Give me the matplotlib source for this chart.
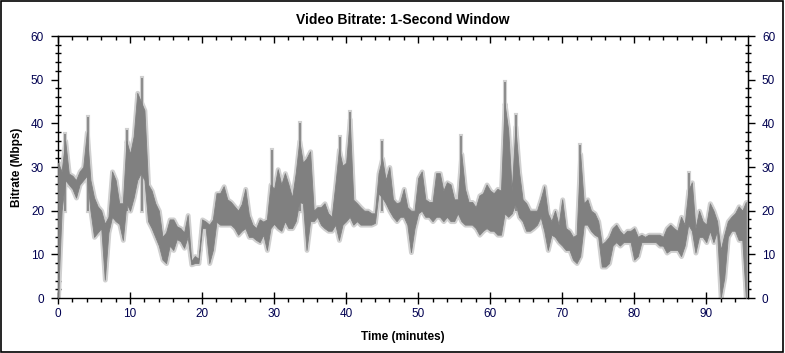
import numpy as np
import matplotlib
matplotlib.use("Agg")
import matplotlib.pyplot as plt
from matplotlib.patches import Rectangle
from matplotlib.ticker import MultipleLocator, FixedLocator, NullFormatter

plt.rcParams["font.family"] = ["Liberation Sans", "DejaVu Sans"]

bitrate_low = [
    0, 20, 27, 26, 25, 23, 26, 27, 28, 20, 14, 15, 16, 4.2, 15, 18.6, 17.6, 17, 13.3, 21.7,
    20, 23, 27, 28.6, 27, 17.6, 16, 14, 12, 8.8, 8, 12, 11, 13.5, 13, 11.5, 14, 7.7, 8, 8,
    16, 16, 8, 11, 17.5, 16.8, 16.8, 16.8, 16.8, 16, 14.5, 15.4, 16, 14, 14, 13.3, 12.8, 14.5, 11, 16,
    17, 16, 15.4, 17.6, 16, 16, 17.6, 22, 21.7, 11, 17.6, 17.6, 18.6, 16.8, 16, 15.4, 15.4, 16.8, 13.3, 16.8,
    17.6, 18.6, 16.8, 17.6, 16.8, 16.8, 16.8, 16.8, 17.2, 24, 23, 21.7, 20, 18.6, 17.6, 18.6, 18.6, 16.8, 10.5, 16,
    19.4, 20, 18.6, 18.6, 17.6, 18.6, 18.6, 17.6, 18.6, 17.6, 17.6, 19.4, 17.6, 16.8, 16.8, 16.8, 16, 14.5, 15.4, 16,
    15.4, 15.4, 14.5, 14.5, 19.4, 18.6, 19.4, 21.7, 18.6, 17.6, 15.4, 15.4, 16, 16.8, 18.6, 15.4, 11, 14.5, 14, 12.8,
    12, 11, 11, 8.8, 8, 9.6, 16.8, 16.8, 15.4, 14.5, 14, 7.2, 7.2, 8, 12, 12.8, 12, 12.8, 12.8, 12.8,
    8.8, 9.6, 12.8, 12.8, 12.8, 12.8, 12.8, 12, 12, 10.4, 11, 11, 11, 9.6, 12, 16.8, 15.4, 10.4, 14, 14,
    12.8, 15.4, 12.8, 15.4, 0, 4.6, 14, 15.4, 15.4, 13.3, 13.3, 0,
]
bitrate_high = [
    31, 29, 36, 28.5, 28, 27, 29, 30, 38, 27, 23, 21, 20, 17, 18.6, 29, 27, 21.7, 21.7, 36,
    33, 37, 47, 45, 43, 26, 24.6, 21.7, 20, 14, 15, 18, 18, 16.4, 16, 15, 19, 8.5, 9.6, 9,
    18, 17.5, 16.8, 18, 24, 24, 25.6, 22.6, 22, 21, 20, 21.5, 25, 19, 16.8, 16, 18, 17.5, 18, 26,
    25, 29.5, 26, 28.6, 26, 23, 28.6, 36, 31, 32, 33.6, 20, 20.8, 20.8, 21.7, 19.4, 18.6, 26, 34, 30.3,
    31, 41, 22.5, 21.7, 20.8, 20, 20, 19.4, 19.4, 28.6, 32, 27, 30, 22.6, 21.7, 22, 25, 20.8, 20, 20,
    27.5, 29, 22.6, 22, 22, 28.6, 28.6, 24.6, 26.5, 26, 22.6, 22.6, 33, 25, 22, 22, 20.8, 23.5, 24, 26,
    24.6, 24, 25, 24.6, 44.6, 38.5, 24.6, 39.3, 29, 22.6, 21.7, 20, 20, 20, 22.6, 25.6, 19.4, 17.6, 20, 16.8,
    22.6, 16, 15.4, 14, 14.5, 33, 21.7, 22.6, 20, 19.4, 17.6, 12.3, 13, 14, 16, 16.8, 15.4, 14.5, 15.4, 15.4,
    16, 14, 14.5, 14, 14.5, 14.5, 14.5, 14.5, 14, 16, 16.8, 16, 15.4, 18.6, 16.8, 24.6, 26.5, 16, 20, 17.6,
    16.8, 21.7, 20, 17.6, 11, 14.5, 17.6, 18.6, 19.4, 21, 20, 22,
]
minutes = np.arange(len(bitrate_low)) * 0.5

# short 1-second peaks that poke above the band
peak_minutes = [1.0, 4.2, 9.6, 11.7, 29.7, 33.6, 39.1, 40.6, 45.0, 56.0, 62.1, 63.6, 72.5, 87.6]
peak_values = [37.5, 41.5, 38.5, 50.3, 34, 40, 36.8, 42.6, 36, 37, 49.4, 42, 35, 28.6]

y_major = list(range(0, 61, 10))
y_minor = list(range(0, 61, 2))
x_major = list(range(0, 91, 10))
x_minor = list(range(0, 96, 2))

dark = "#808080"
light = "#d0d0d0"
label_color = "#000050"

fig = plt.figure(figsize=(7.85, 3.53), dpi=100)
ax = fig.add_axes([0.0739, 0.1558, 0.879, 0.7422])

ax.vlines(peak_minutes, 20, peak_values, color=light, linewidth=3,
          capstyle="projecting", zorder=1)
ax.fill_between(minutes, bitrate_low, bitrate_high, facecolor=light,
                edgecolor=light, linewidth=3.5, zorder=2)
ax.fill_between(minutes, bitrate_low, bitrate_high, facecolor=dark,
                edgecolor=dark, linewidth=0.6, zorder=3)
ax.vlines(peak_minutes, 20, peak_values, color=dark, linewidth=1.2, zorder=4)

ax.set_xlim(0, 95.8)
ax.set_ylim(0, 60)
ax.xaxis.set_major_locator(FixedLocator(x_major))
ax.xaxis.set_minor_locator(FixedLocator(x_minor))
ax.yaxis.set_major_locator(FixedLocator(y_major))
ax.yaxis.set_minor_locator(FixedLocator(y_minor))

for side in ax.spines.values():
    side.set_linewidth(1.0)
    side.set_color("black")

ax.tick_params(axis="x", which="major", direction="inout", length=8, width=1,
               labelsize=8.5, labelcolor=label_color, pad=3)
ax.tick_params(axis="x", which="minor", direction="out", length=3, width=1)
ax.tick_params(axis="y", which="major", direction="out", length=5, width=1,
               labelsize=8.5, labelcolor=label_color, pad=5)
ax.tick_params(axis="y", which="minor", direction="inout", length=5, width=1)

top = ax.secondary_xaxis("top")
top.xaxis.set_major_locator(FixedLocator(x_major))
top.xaxis.set_minor_locator(FixedLocator(x_minor))
top.xaxis.set_major_formatter(NullFormatter())
top.tick_params(which="major", direction="in", length=5, width=1, labeltop=False)
top.tick_params(which="minor", direction="in", length=3, width=1)

right = ax.secondary_yaxis("right")
right.yaxis.set_major_locator(FixedLocator(y_major))
right.yaxis.set_minor_locator(FixedLocator(y_minor))
right.tick_params(which="major", direction="out", length=5, width=1,
                  labelsize=8.5, labelcolor=label_color, pad=5)
right.tick_params(which="minor", direction="inout", length=5, width=1)

ax.set_title("Video Bitrate: 1-Second Window", fontsize=10, fontweight="bold", pad=9)
ax.set_xlabel("Time (minutes)", fontsize=8.5, fontweight="bold", labelpad=8)
ax.set_ylabel("Bitrate (Mbps)", fontsize=8.5, fontweight="bold", labelpad=6)

fig.add_artist(Rectangle((0.001, 0.002), 0.997, 0.995, transform=fig.transFigure,
                         fill=False, edgecolor="black", linewidth=1.2))

fig.savefig("out.png", dpi=100)
